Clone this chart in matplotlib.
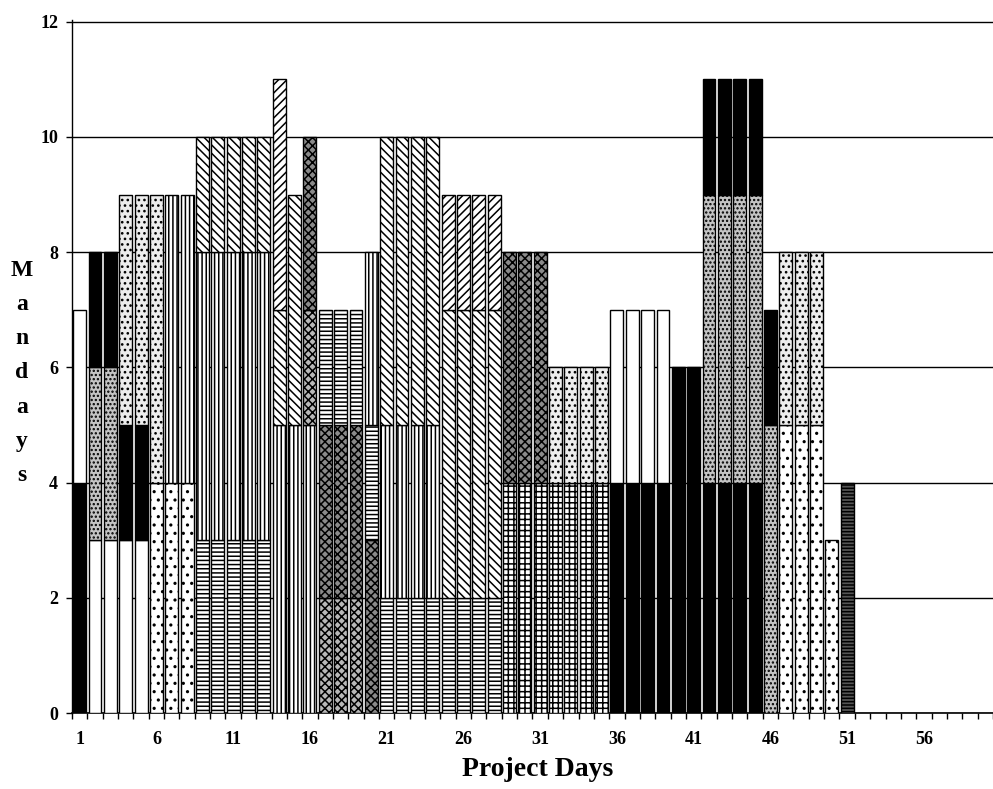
import numpy as np
import matplotlib
matplotlib.use('Agg')
import matplotlib.pyplot as plt

# tasks, stacked bottom-to-top on each day in list order
task_pattern = ['black', 'white', 'white', 'speckle', 'black', 'black', 'lightdot',
                'whitedot', 'lightdot', 'vstripe', 'hstripe', 'vstripe', 'bslash', 'bslash',
                'slash', 'check1', 'check2', 'hstripe', 'vstripe', 'bslash', 'slash',
                'grid', 'check2', 'lightdot', 'black', 'white', 'black', 'speckle', 'black',
                'whitedot', 'lightdot', 'whitedot', 'hbold']
task_first = [1, 1, 2, 2, 2, 4, 4, 6, 6, 7, 9, 9, 9, 15, 14, 16, 16, 17, 20, 21, 25,
              29, 29, 32, 36, 36, 40, 42, 42, 47, 47, 50, 51]
task_last = [1, 1, 5, 3, 3, 5, 5, 8, 6, 8, 13, 16, 14, 15, 14, 19, 20, 28, 24, 28, 28,
             35, 31, 35, 45, 39, 41, 46, 46, 49, 49, 50, 51]
task_men = [4, 3, 3, 3, 2, 2, 4, 4, 5, 5, 3, 5, 2, 4, 4, 2, 3, 2, 3, 5, 2,
            4, 4, 2, 4, 3, 2, 5, 2, 5, 3, 3, 4]

day_labels = [1, 6, 11, 16, 21, 26, 31, 36, 41, 46, 51, 56]
n_days = 60

# fill / hatch for each pattern
styles = {
    'black': ('black', None),
    'white': ('white', None),
    'speckle': ('#c4c4c4', '....'),
    'lightdot': ('#ededed', '...'),
    'whitedot': ('white', '..'),
    'vstripe': ('white', '||||'),
    'hstripe': ('white', '----'),
    'bslash': ('white', '\\\\\\\\'),
    'slash': ('white', '////'),
    'check1': ('#b8b8b8', 'xxxx'),
    'check2': ('#8a8a8a', 'xxxx'),
    'grid': ('white', '+++'),
    'hbold': ('#555555', '-----'),
}

plt.rcParams['font.family'] = ['Liberation Serif', 'DejaVu Serif']
plt.rcParams['hatch.linewidth'] = 1.1

fig = plt.figure(figsize=(9.93, 7.89), dpi=100)
ax = fig.add_axes([0.0725, 0.0963, 0.9275, 0.8784])

## STACKED BARS
day_total = np.zeros(n_days + 2)
for pat, a, b, m in zip(task_pattern, task_first, task_last, task_men):
    d = np.arange(a, b + 1)
    fc, hatch = styles[pat]
    ax.bar(d, m, bottom=day_total[d], width=0.84, color=fc, hatch=hatch,
           edgecolor='black', linewidth=1.0, zorder=3)
    day_total[d] += m

## AXES
ax.set_xlim(0.5, 59.45)
ax.set_ylim(0, 12.03)
ax.set_yticks(range(0, 13, 2))
ax.set_yticklabels([str(v) for v in range(0, 13, 2)], fontsize=13, fontweight='bold')
ax.yaxis.grid(True, color='black', linewidth=1.0)
ax.set_axisbelow(True)
ax.tick_params(axis='y', direction='out', length=4, width=1, pad=6)

# tick marks at day boundaries, labels at day centres
ax.set_xticks(np.arange(0.5, n_days + 0.6, 1))
ax.set_xticklabels([])
ax.set_xticks(day_labels, minor=True)
ax.set_xticklabels([str(v) for v in day_labels], minor=True, fontsize=13, fontweight='bold')
ax.tick_params(axis='x', which='major', direction='out', length=4, width=1)
ax.tick_params(axis='x', which='minor', length=0, pad=13)

for s in ['top', 'right']:
    ax.spines[s].set_visible(False)
ax.spines['left'].set_linewidth(1.0)
ax.spines['bottom'].set_linewidth(1.2)

## LABELS
for i, ch in enumerate('Mandays'):
    fig.text(0.022, 1 - (270 + i * 34.3) / 789, ch, fontsize=17, fontweight='bold',
             ha='center', va='center')
fig.text(0.541, 1 - 770 / 789, 'Project Days', fontsize=20, fontweight='bold',
         ha='center', va='center')

fig.savefig('out.png', dpi=100)
